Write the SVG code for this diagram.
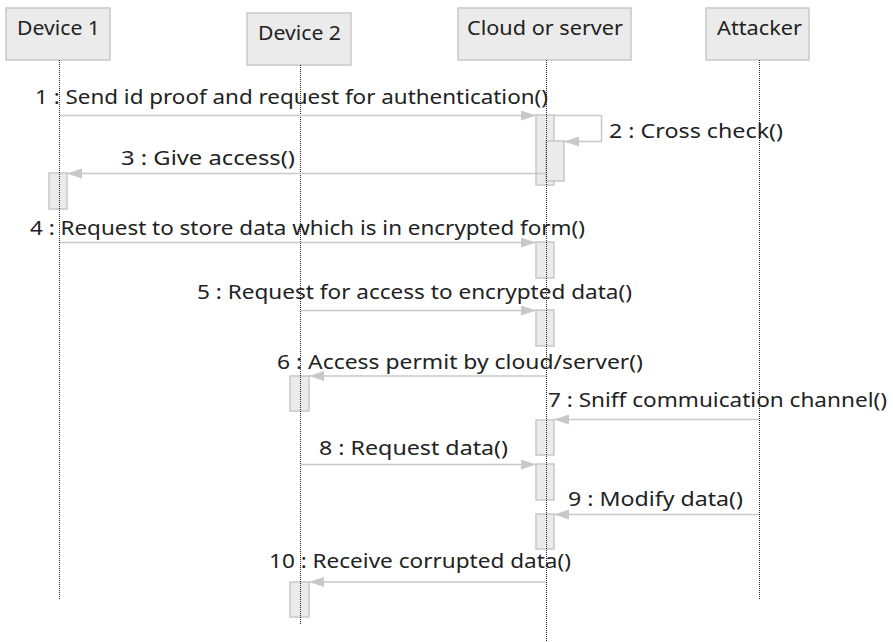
<svg xmlns="http://www.w3.org/2000/svg" width="893" height="642" viewBox="0 0 893 642">
<style>
.hdr{fill:#ebebeb;stroke:#c8c8c8;stroke-width:1.5}
.act{fill:#ebebeb;stroke:#c8c8c8;stroke-width:1.5}
.life{stroke:#222;stroke-width:1;stroke-dasharray:1,1;fill:none}
.msg{stroke:#c8c8c8;stroke-width:1.5;fill:none}
text{font-family:"Noto Sans","Open Sans","DejaVu Sans",sans-serif;font-size:20px;fill:#222}
</style>
<defs>
<marker id="ah" markerUnits="userSpaceOnUse" markerWidth="16" markerHeight="11" refX="15" refY="5" orient="auto">
<path d="M0,0 L15,5 L0,10 z" fill="#c8c8c8"/>
</marker>
</defs>
<rect width="893" height="642" fill="#fff"/>
<g id="device1">
<rect class="hdr" x="6" y="8" width="104" height="52"/>
<text x="17" y="35" textLength="83" lengthAdjust="spacingAndGlyphs">Device 1</text>
<rect class="act" x="49" y="173" width="18" height="36"/>
<line class="life" x1="59.5" y1="60" x2="59.5" y2="600"/>
</g>
<g id="device2">
<rect class="hdr" x="247" y="13" width="104" height="52"/>
<text x="258" y="40" textLength="83" lengthAdjust="spacingAndGlyphs">Device 2</text>
<rect class="act" x="290" y="376" width="19" height="35"/>
<rect class="act" x="290" y="582" width="19" height="35"/>
<line class="life" x1="300.5" y1="65" x2="300.5" y2="625"/>
</g>
<g id="cloud">
<rect class="hdr" x="458" y="8" width="173" height="52"/>
<text x="467" y="35" textLength="156" lengthAdjust="spacingAndGlyphs">Cloud or server</text>
<rect class="act" x="536" y="115" width="18" height="70"/>
<rect class="act" x="546" y="141" width="18" height="40"/>
<rect class="act" x="536" y="242" width="18" height="36"/>
<rect class="act" x="536" y="310" width="18" height="36"/>
<rect class="act" x="536" y="420" width="18" height="35"/>
<rect class="act" x="536" y="464" width="18" height="36"/>
<rect class="act" x="536" y="514" width="18" height="35"/>
<line class="life" x1="546.5" y1="60" x2="546.5" y2="642"/>
</g>
<g id="attacker">
<rect class="hdr" x="706" y="8" width="103" height="52"/>
<text x="717" y="35" textLength="85" lengthAdjust="spacingAndGlyphs">Attacker</text>
<line class="life" x1="759.5" y1="60" x2="759.5" y2="600"/>
</g>
<g id="connectors">
<line class="msg" x1="60" y1="115.5" x2="536" y2="115.5" marker-end="url(#ah)"/>
<text x="35" y="104" textLength="513" lengthAdjust="spacingAndGlyphs">1 : Send id proof and request for authentication()</text>
<polyline class="msg" points="554,115.5 601.5,115.5 601.5,141.5 564,141.5" marker-end="url(#ah)"/>
<text x="609" y="138" textLength="174" lengthAdjust="spacingAndGlyphs">2 : Cross check()</text>
<line class="msg" x1="546" y1="173.5" x2="67" y2="173.5" marker-end="url(#ah)"/>
<text x="121" y="165" textLength="174" lengthAdjust="spacingAndGlyphs">3 : Give access()</text>
<line class="msg" x1="60" y1="242.5" x2="536" y2="242.5" marker-end="url(#ah)"/>
<text x="30" y="235" textLength="555" lengthAdjust="spacingAndGlyphs">4 : Request to store data which is in encrypted form()</text>
<line class="msg" x1="301" y1="310.5" x2="536" y2="310.5" marker-end="url(#ah)"/>
<text x="197" y="299" textLength="435" lengthAdjust="spacingAndGlyphs">5 : Request for access to encrypted data()</text>
<line class="msg" x1="546" y1="376" x2="309" y2="376" marker-end="url(#ah)"/>
<text x="277" y="369" textLength="366" lengthAdjust="spacingAndGlyphs">6 : Access permit by cloud/server()</text>
<line class="msg" x1="759" y1="419.5" x2="554" y2="419.5" marker-end="url(#ah)"/>
<text x="548" y="407" textLength="339" lengthAdjust="spacingAndGlyphs">7 : Sniff commuication channel()</text>
<line class="msg" x1="301" y1="464.5" x2="536" y2="464.5" marker-end="url(#ah)"/>
<text x="319" y="455" textLength="189" lengthAdjust="spacingAndGlyphs">8 : Request data()</text>
<line class="msg" x1="759" y1="514.5" x2="554" y2="514.5" marker-end="url(#ah)"/>
<text x="568" y="506" textLength="175" lengthAdjust="spacingAndGlyphs">9 : Modify data()</text>
<line class="msg" x1="546" y1="582" x2="309" y2="582" marker-end="url(#ah)"/>
<text x="269" y="568" textLength="302" lengthAdjust="spacingAndGlyphs">10 : Receive corrupted data()</text>
</g>
</svg>
